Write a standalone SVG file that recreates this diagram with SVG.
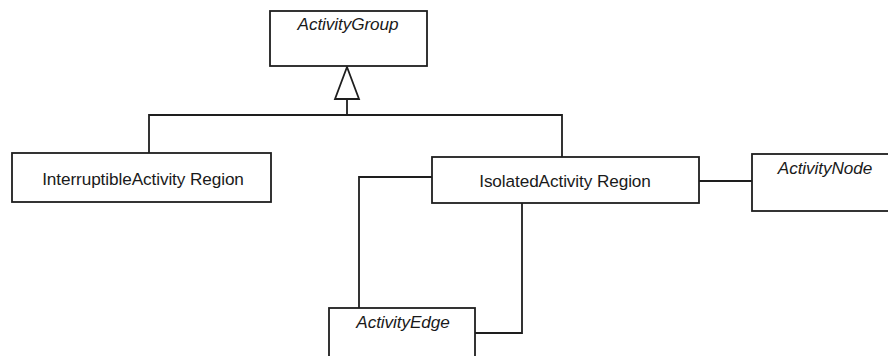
<svg xmlns="http://www.w3.org/2000/svg" width="888" height="356" viewBox="0 0 888 356">
  <style>
    .box { fill: #ffffff; stroke: #1e1e1e; stroke-width: 1.8; }
    .line { fill: none; stroke: #1e1e1e; stroke-width: 1.8; }
    .label { font-family: "Liberation Sans", Arial, sans-serif; font-size: 17.2px; fill: #1a1a1a; text-anchor: middle; letter-spacing: -0.1px; }
    .abstract { font-style: italic; }
  </style>
  <rect width="888" height="356" fill="#ffffff"/>

  <!-- connectors -->
  <g id="connectors">
    <!-- generalization: both regions specialize ActivityGroup -->
    <polyline class="line" points="149,153 149,115 562,115 562,157"/>
    <line class="line" x1="347" y1="99" x2="347" y2="115"/>
    <polygon class="box" points="347,67 335,99 359,99"/>
    <!-- IsolatedActivityRegion to ActivityNode -->
    <line class="line" x1="699" y1="181" x2="752" y2="181"/>
    <!-- IsolatedActivityRegion to ActivityEdge -->
    <polyline class="line" points="432,177 359,177 359,308"/>
    <polyline class="line" points="522,203 522,333 475,333"/>
  </g>

  <g id="activity-group">
    <rect class="box" x="270" y="11" width="157" height="55"/>
    <text class="label abstract" x="348" y="30">ActivityGroup</text>
  </g>

  <g id="interruptible-activity-region">
    <rect class="box" x="12" y="153" width="259" height="49"/>
    <text class="label" x="143" y="185">InterruptibleActivity Region</text>
  </g>

  <g id="isolated-activity-region">
    <rect class="box" x="432" y="157" width="267" height="46"/>
    <text class="label" x="565" y="187">IsolatedActivity Region</text>
  </g>

  <g id="activity-node">
    <rect class="box" x="752" y="154" width="150" height="57"/>
    <text class="label abstract" x="825" y="174">ActivityNode</text>
  </g>

  <g id="activity-edge">
    <rect class="box" x="329" y="308" width="146" height="70"/>
    <text class="label abstract" x="403" y="328">ActivityEdge</text>
  </g>
</svg>
